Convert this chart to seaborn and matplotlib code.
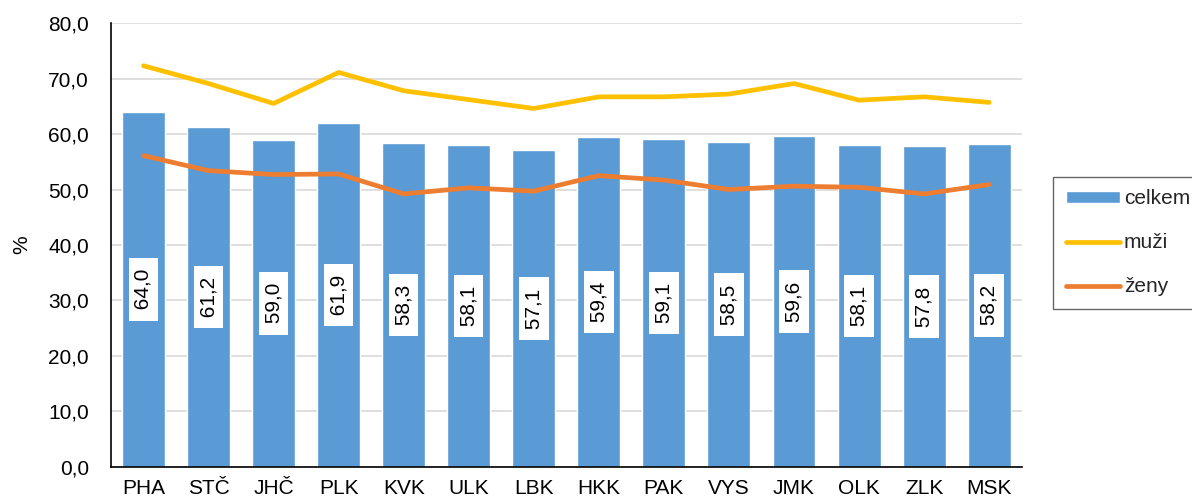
import numpy as np
import pandas as pd
import matplotlib
matplotlib.use('Agg')
import matplotlib.pyplot as plt
import seaborn as sns

# regiony a hodnoty (%)
kraje = ['PHA', 'STČ', 'JHČ', 'PLK', 'KVK', 'ULK', 'LBK', 'HKK', 'PAK', 'VYS', 'JMK', 'OLK', 'ZLK', 'MSK']
celkem = [64.0, 61.2, 59.0, 61.9, 58.3, 58.1, 57.1, 59.4, 59.1, 58.5, 59.6, 58.1, 57.8, 58.2]
muzi = [72.3, 69.1, 65.5, 71.1, 67.8, 66.2, 64.6, 66.7, 66.7, 67.2, 69.1, 66.1, 66.7, 65.7]
zeny = [56.1, 53.4, 52.7, 52.8, 49.2, 50.3, 49.7, 52.5, 51.7, 50.0, 50.6, 50.4, 49.2, 50.9]

df = pd.DataFrame({'kraj': kraje, 'celkem': celkem, 'muzi': muzi, 'zeny': zeny})

sns.set_style('white')
plt.rcParams['font.family'] = ['Liberation Sans', 'DejaVu Sans']
fs = 15

fig = plt.figure(figsize=(11.92, 5.01), dpi=100)
ax = fig.add_axes([0.0931, 0.068, 0.764, 0.886])

sns.barplot(data=df, x='kraj', y='celkem', color='#5B9BD5', width=0.66,
            saturation=1, label='celkem', ax=ax, zorder=2)
sns.lineplot(data=df, x='kraj', y='muzi', color='#FFC000', linewidth=3.4,
             sort=False, label='muži', ax=ax, zorder=3, solid_capstyle='round')
sns.lineplot(data=df, x='kraj', y='zeny', color='#ED7D31', linewidth=3.4,
             sort=False, label='ženy', ax=ax, zorder=3, solid_capstyle='round')

# popisky hodnot uprostred sloupcu
for i, v in enumerate(celkem):
    ax.text(i, v / 2, ' ' + f'{v:.1f}'.replace('.', ',') + ' ', rotation=90,
            ha='center', va='center', fontsize=fs, color='black', zorder=4,
            bbox=dict(facecolor='white', edgecolor='none', pad=3.8))

ax.set_ylim(0, 80)
ax.set_xlim(-0.5, len(kraje) - 0.5)
ax.set_yticks(np.arange(0, 81, 10))
ax.set_yticklabels([f'{t:.1f}'.replace('.', ',') for t in np.arange(0, 81, 10)])
ax.yaxis.grid(True, color='#d9d9d9', linewidth=1.2, zorder=0)
ax.set_axisbelow(True)
ax.tick_params(axis='both', length=0, labelsize=fs, colors='black')
ax.tick_params(axis='y', pad=16)
ax.tick_params(axis='x', pad=9)
ax.set_xlabel('')
ax.set_ylabel('%', fontsize=fs, labelpad=12, color='black')
for s in ['top', 'right']:
    ax.spines[s].set_visible(False)
ax.spines['left'].set_color('black')
ax.spines['bottom'].set_color('black')
ax.spines['left'].set_linewidth(1.2)
ax.spines['bottom'].set_linewidth(1.2)

h, l = ax.get_legend_handles_labels()
order = [l.index('celkem'), l.index('muži'), l.index('ženy')]
if ax.legend_:
    ax.legend_.remove()
leg = fig.legend([h[k] for k in order], [l[k] for k in order], loc='upper left',
                 bbox_to_anchor=(1053 / 1192, 1 - 177 / 501),
                 fontsize=fs, frameon=True, fancybox=False, edgecolor='#404040',
                 handlelength=2.6, handleheight=0.45, labelspacing=1.2,
                 borderpad=0.6, handletextpad=0.2, borderaxespad=0)
leg.get_frame().set_linewidth(1.0)

fig.savefig('out.png', dpi=100)
